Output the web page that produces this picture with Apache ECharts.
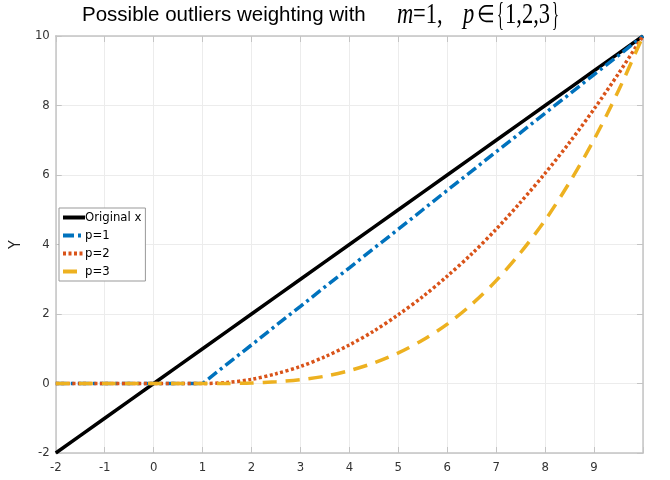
<!DOCTYPE html>
<html><head><meta charset="utf-8">
<script src="https://cdn.jsdelivr.net/npm/echarts@6/dist/echarts.min.js"></script>
<style>html,body{margin:0;padding:0;background:#fff}#c{width:670px;height:480px}</style>
</head><body><div id="c"></div>
<script>
const xs = [-2,-1.5,-1,-0.5,0,0.5,1,1.5,2,2.5,3,3.5,4,4.5,5,5.5,6,6.5,7,7.5,8,8.5,9,9.5,10];
const original = [-2,-1.5,-1,-0.5,0,0.5,1,1.5,2,2.5,3,3.5,4,4.5,5,5.5,6,6.5,7,7.5,8,8.5,9,9.5,10];
const p1 = [0,0,0,0,0,0,0,0.56,1.11,1.67,2.22,2.78,3.33,3.89,4.44,5.0,5.56,6.11,6.67,7.22,7.78,8.33,8.89,9.44,10];
const p2 = [0,0,0,0,0,0,0,0.03,0.12,0.28,0.49,0.77,1.11,1.51,1.98,2.5,3.09,3.73,4.44,5.22,6.05,6.94,7.9,8.92,10];
const p3 = [0,0,0,0,0,0,0,0.002,0.014,0.05,0.11,0.21,0.37,0.59,0.88,1.25,1.71,2.28,2.96,3.77,4.7,5.79,7.02,8.43,10];
const seriesNames = ['Original x','p=1','p=2','p=3'];
const xTicks = [-2,-1,0,1,2,3,4,5,6,7,8,9];

const pair = arr => xs.map((x,i)=>[x,arr[i]]);
const chart = echarts.init(document.getElementById('c'));
const cond = '"DejaVu Sans Condensed","DejaVu Sans"';
const axisFont = {fontFamily:cond, fontSize:13, color:'#333'};
const lineCol = '#c4c4c4';
const serif = '"Liberation Serif"';
function mt(text, x, y, size, italic, sx) {
  return {type:'text', x:x, y:y, scaleX:sx, style:{text:text, font:(italic?'italic ':'')+size+'px '+serif, fill:'#000'}};
}
chart.setOption({
  animation:false,
  graphic:[
    {type:'text', left:82, top:5, style:{text:'Possible outliers weighting with', font:'20.5px "Liberation Sans"', fill:'#000'}},
    mt('m', 397, 0, 30, true, 0.75),
    mt('=1,', 413, 0, 30, false, 0.75),
    mt('p', 463, 0, 30, true, 0.75),
    {type:'text', x:477, y:4, scaleX:0.85, style:{text:'∈', font:'24px '+serif, fill:'#000'}},
    {type:'text', x:497, y:-1, scaleX:0.45, scaleY:1.05, style:{text:'{', font:'32px '+serif, fill:'#000'}},
    mt('1,2,3', 505, 0, 30, false, 0.75),
    {type:'text', x:552, y:-1, scaleX:0.45, scaleY:1.05, style:{text:'}', font:'32px '+serif, fill:'#000'}}
  ],
  grid:{left:54, right:27, top:36, bottom:27, show:false},
  legend:{
    orient:'vertical', left:59, top:208, data:seriesNames,
    itemWidth:22, itemHeight:12, itemGap:5, padding:[3,4,3,2],
    borderColor:'#999', borderWidth:1, backgroundColor:'#fff',
    lineStyle:{width:4},
    itemStyle:{opacity:0},
    textStyle:{fontFamily:cond, fontSize:13, color:'#000', padding:[0,0,0,-5]}
  },
  xAxis:[
    {type:'value', min:-2, max:10, interval:1,
     axisLine:{show:true, onZero:false, lineStyle:{color:lineCol, width:1.5}},
     axisTick:{show:true, inside:true, length:6, lineStyle:{color:lineCol}},
     axisLabel:{...axisFont, formatter:v=> xTicks.includes(v)? String(v):''},
     splitLine:{show:true, lineStyle:{color:'#ececec'}}},
    {type:'value', position:'top', min:-2, max:10, interval:1,
     axisLine:{show:true, onZero:false, lineStyle:{color:lineCol, width:1.5}},
     axisTick:{show:true, inside:true, length:6, lineStyle:{color:lineCol}},
     axisLabel:{show:false}, splitLine:{show:false}}
  ],
  yAxis:[
    {type:'value', min:-2, max:10, interval:2, name:'Y', nameLocation:'middle', nameGap:17, nameRotate:90,
     nameTextStyle:{fontFamily:cond, fontSize:16, color:'#222'},
     axisLine:{show:true, onZero:false, lineStyle:{color:lineCol, width:1.5}},
     axisTick:{show:true, inside:true, length:6, lineStyle:{color:lineCol}},
     axisLabel:{...axisFont, margin:6},
     splitLine:{show:true, lineStyle:{color:'#ececec'}}},
    {type:'value', position:'right', min:-2, max:10, interval:2,
     axisLine:{show:true, onZero:false, lineStyle:{color:lineCol, width:1.5}},
     axisTick:{show:true, inside:true, length:6, lineStyle:{color:lineCol}},
     axisLabel:{show:false}, splitLine:{show:false}}
  ],
  series:[
    {name:seriesNames[0], type:'line', data:pair(original), symbol:'none', z:2,
     lineStyle:{color:'#000', width:3.5}, itemStyle:{color:'#000'}},
    {name:seriesNames[1], type:'line', data:pair(p1), symbol:'none', z:3,
     lineStyle:{color:'#0072BD', width:3.5, type:[11,4,3,4]}, itemStyle:{color:'#0072BD'}},
    {name:seriesNames[2], type:'line', data:pair(p2), symbol:'none', smooth:0.3, z:4,
     lineStyle:{color:'#D95319', width:3.5, type:[3,2.5]}, itemStyle:{color:'#D95319'}},
    {name:seriesNames[3], type:'line', data:pair(p3), symbol:'none', smooth:0.3, z:5,
     lineStyle:{color:'#EDB120', width:3.5, type:[14,9]}, itemStyle:{color:'#EDB120'}}
  ]
});
</script></body></html>
